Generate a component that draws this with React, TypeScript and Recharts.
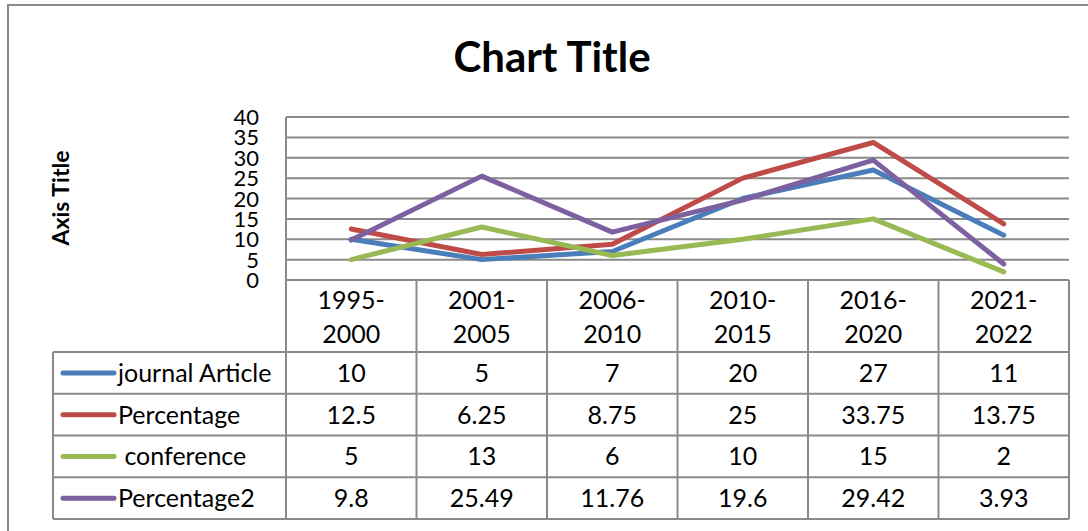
import { LineChart, Line, XAxis, YAxis, CartesianGrid } from 'recharts';

const categories = ['1995-2000', '2001-2005', '2006-2010', '2010-2015', '2016-2020', '2021-2022'];
const journalArticle = [10, 5, 7, 20, 27, 11];
const percentage = [12.5, 6.25, 8.75, 25, 33.75, 13.75];
const conference = [5, 13, 6, 10, 15, 2];
const percentage2 = [9.8, 25.49, 11.76, 19.6, 29.42, 3.93];
const yTicks = [0, 5, 10, 15, 20, 25, 30, 35, 40];

const series = [
  { key: 'journal', name: 'journal Article', values: journalArticle, color: '#4A7EBB' },
  { key: 'pct', name: 'Percentage', values: percentage, color: '#BE4B48' },
  { key: 'conf', name: ' conference', values: conference, color: '#98B954' },
  { key: 'pct2', name: 'Percentage2', values: percentage2, color: '#7D60A0' },
];

const data = categories.map((c, i) => {
  const row: Record<string, string | number> = { name: c };
  series.forEach((s) => { row[s.key] = s.values[i]; });
  return row;
});

const FONT = 'Lato, "Open Sans", sans-serif';
const GRID = '#8a8a8a';

// layout of the plot / data table
const PLOT_L = 286;
const PLOT_R = 1069;
const PLOT_T = 117;
const PLOT_B = 280;
const HEAD_B = 352;
const TABLE_B = 519;
const LABEL_L = 53;

const YTick = (props: any) => {
  const { y, payload } = props;
  return (
    <text x={259} y={y + 8} textAnchor="end" fontSize={22} fontFamily={FONT} fill="#000">
      {payload.value}
    </text>
  );
};

function Overlay() {
  const colW = (PLOT_R - PLOT_L) / categories.length;
  const rowH = (TABLE_B - HEAD_B) / series.length;
  const textProps = { fontSize: 25, fontFamily: FONT, fill: '#000' };
  return (
    <svg width={1088} height={531} style={{ position: 'absolute', left: 0, top: 0 }}>
      <text x={552} y={72} textAnchor="middle" fontSize={42} fontWeight={700} fontFamily={FONT}>Chart Title</text>
      <text x={0} y={0} transform="translate(69,198) rotate(-90)" textAnchor="middle" fontSize={23} fontWeight={700} fontFamily={FONT}>Axis Title</text>
      {/* vertical column lines */}
      {categories.concat(['']).map((_, i) => (
        <line key={`v${i}`} x1={PLOT_L + i * colW} x2={PLOT_L + i * colW} y1={PLOT_B} y2={TABLE_B} stroke={GRID} strokeWidth={2} />
      ))}
      <line x1={LABEL_L} x2={LABEL_L} y1={HEAD_B} y2={TABLE_B} stroke={GRID} strokeWidth={2} />
      {/* horizontal row lines */}
      {series.map((_, i) => (
        <line key={`h${i}`} x1={LABEL_L} x2={PLOT_R} y1={HEAD_B + i * rowH} y2={HEAD_B + i * rowH} stroke={GRID} strokeWidth={2} />
      ))}
      <line x1={LABEL_L} x2={PLOT_R} y1={TABLE_B} y2={TABLE_B} stroke={GRID} strokeWidth={2} />
      {/* header */}
      {categories.map((c, i) => {
        const [a, b] = c.split('-');
        const cx = PLOT_L + (i + 0.5) * colW;
        return (
          <g key={`c${i}`}>
            <text x={cx} y={309} textAnchor="middle" {...textProps}>{a}-</text>
            <text x={cx} y={343} textAnchor="middle" {...textProps}>{b}</text>
          </g>
        );
      })}
      {/* rows */}
      {series.map((s, r) => {
        const cy = HEAD_B + (r + 0.5) * rowH;
        return (
          <g key={`r${s.key}`}>
            <line x1={63} x2={114} y1={cy} y2={cy} stroke={s.color} strokeWidth={5} strokeLinecap="round" />
            <text x={118} y={cy + 9} xmlSpace="preserve" {...textProps}>{s.name}</text>
            {s.values.map((v, i) => (
              <text key={i} x={PLOT_L + (i + 0.5) * colW} y={cy + 9} textAnchor="middle" {...textProps}>{v}</text>
            ))}
          </g>
        );
      })}
    </svg>
  );
}

export default function App() {
  const colW = (PLOT_R - PLOT_L) / categories.length;
  return (
    <div style={{ position: 'absolute', left: 0, top: 0, width: 1088, height: 531, background: '#fff', overflow: 'hidden' }}>
      <div style={{ position: 'absolute', left: 7, top: 4, width: 1200, height: 700, borderLeft: `2px solid ${GRID}`, borderTop: `2px solid ${GRID}` }} />
      <div style={{ position: 'absolute', left: 0, top: 0 }}>
        <LineChart width={1088} height={531} data={data} margin={{ top: PLOT_T, right: 1088 - PLOT_R, bottom: 531 - PLOT_B, left: PLOT_L - 60 }}>
          <CartesianGrid vertical={false} stroke={GRID} strokeWidth={2} />
          <XAxis dataKey="name" hide padding={{ left: colW / 2, right: colW / 2 }} />
          <YAxis width={60} domain={[0, 40]} ticks={yTicks} interval={0} tick={<YTick />} tickLine={false} axisLine={{ stroke: GRID, strokeWidth: 2 }} />
          {series.map((s) => (
            <Line key={s.key} dataKey={s.key} name={s.name} stroke={s.color} strokeWidth={5} dot={false} strokeLinejoin="round" strokeLinecap="round" isAnimationActive={false} />
          ))}
        </LineChart>
      </div>
      <Overlay />
    </div>
  );
}
